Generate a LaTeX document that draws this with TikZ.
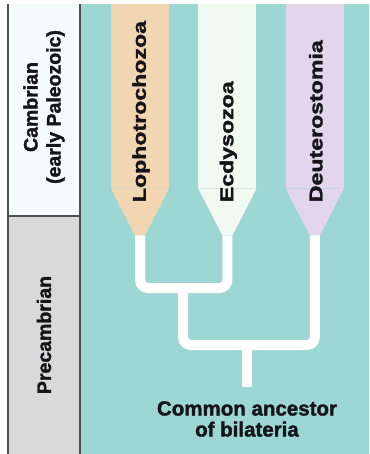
\documentclass[tikz,border=0pt]{standalone}
\usepackage{fontspec}
\setsansfont{Liberation Sans}[BoldFeatures={FakeBold=1.6}]
\usetikzlibrary{positioning,calc}
\definecolor{cteal}{RGB}{157,215,212}
\definecolor{cpeach}{RGB}{242,214,178}
\definecolor{cmint}{RGB}{241,250,240}
\definecolor{clilac}{RGB}{226,213,236}
\definecolor{cpale}{RGB}{245,252,252}
\definecolor{cgray}{RGB}{217,217,217}
\definecolor{crule}{RGB}{80,80,80}
\definecolor{cink}{RGB}{20,20,25}

\begin{document}
\begin{tikzpicture}[
  x=1pt,y=1pt,
  font=\sffamily\bfseries,
  band/.style={minimum width=72pt,inner sep=0pt,outer sep=0pt},
  eralabel/.style={rotate=90,align=center,inner sep=0pt,text=cink,font=\sffamily\bfseries\fontsize{19.5}{23}\selectfont},
  clade/.style={minimum width=58pt,minimum height=184pt,inner sep=0pt,anchor=north},
  cladelabel/.style={rotate=90,xscale=1.25,anchor=west,inner sep=0pt,text=cink,font=\sffamily\bfseries\fontsize{18.5}{20}\selectfont},
  branch/.style={draw=white,line width=10pt,rounded corners=8pt},
  rule/.style={draw=crule,line width=1.1pt}
]
  \useasboundingbox (0,0) rectangle (369,-454);
  \fill[cteal] (80,-4) rectangle (369,-454);

  % geologic eras
  \node[band,fill=cpale,minimum height=212pt,anchor=north] (cambrian) at (44,-4) {};
  \node[band,fill=cgray,minimum height=238pt,below=0pt of cambrian] (precambrian) {};
  \node[eralabel] (cambrianlab) at ($(cambrian)+(0,3)$) {Cambrian\\(early Paleozoic)};
  \node[eralabel] (precambrianlab) at (precambrian) {Precambrian};
  \draw[rule] (cambrian.north west) -- (precambrian.south west);
  \draw[rule] (cambrian.north east) -- (precambrian.south east);
  \draw[rule] (cambrian.south west) -- (cambrian.south east);

  % clades
  \node[clade,fill=cpeach] (lopho) at (140,-4) {};
  \node[clade,fill=cmint,right=29pt of lopho] (ecdy) {};
  \node[clade,fill=clilac,right=29pt of ecdy] (deutero) {};
  \coordinate (lophotip) at ($(lopho.south)+(0,-47)$);
  \coordinate (ecdytip) at ($(ecdy.south)+(0,-47)$);
  \coordinate (deuterotip) at ($(deutero.south)+(0,-47)$);
  \fill[cpeach] (lopho.south west) -- (lopho.south east) -- ($(lophotip)+(5,0)$) -- ($(lophotip)+(-5,0)$) -- cycle;
  \fill[cmint] (ecdy.south west) -- (ecdy.south east) -- ($(ecdytip)+(5,0)$) -- ($(ecdytip)+(-5,0)$) -- cycle;
  \fill[clilac] (deutero.south west) -- (deutero.south east) -- ($(deuterotip)+(5,0)$) -- ($(deuterotip)+(-5,0)$) -- cycle;
  \node[cladelabel] (lopholab) at ($(lopho.south)+(1,-14)$) {Lophotrochozoa};
  \node[cladelabel] (ecdylab) at ($(ecdy.south)+(1,-14)$) {Ecdysozoa};
  \node[cladelabel] (deuterolab) at ($(deutero.south)+(1,-14)$) {Deuterostomia};

  % tree
  \coordinate (protostome) at (183,-288);
  \coordinate (bilateria) at (247,-345);
  \coordinate (root) at (247,-387);
  \draw[branch] (lophotip) -- (lophotip |- protostome) -- (ecdytip |- protostome) -- (ecdytip);
  \draw[branch] (protostome) -- (protostome |- bilateria) -- (deuterotip |- bilateria) -- (deuterotip);
  \draw[branch] (bilateria) -- (root);

  \node[align=center,inner sep=0pt,below=14pt of root,text=cink,font=\sffamily\bfseries\fontsize{20.5}{21}\selectfont] (ancestor)
    {Common ancestor\\of bilateria};
\end{tikzpicture}
\end{document}
